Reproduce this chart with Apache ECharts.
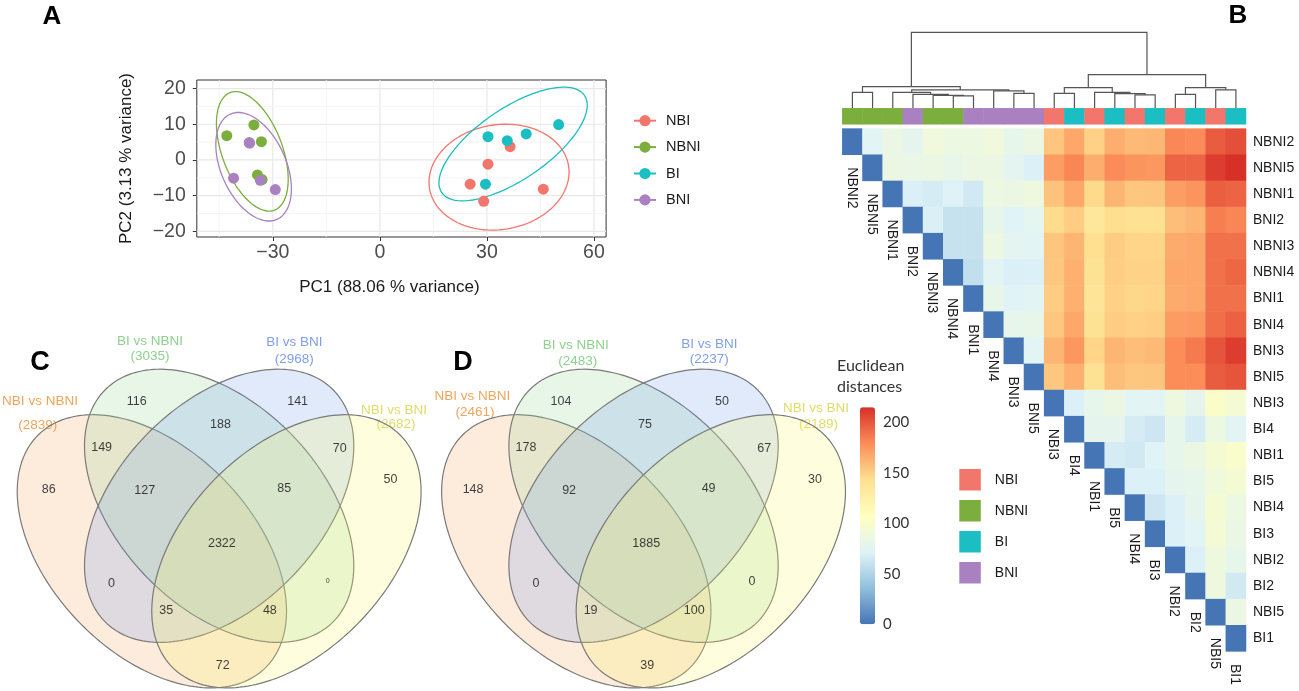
<!DOCTYPE html>
<html><head><meta charset="utf-8">
<script src="https://cdn.jsdelivr.net/npm/echarts@6/dist/echarts.min.js"></script>
<style>html,body{margin:0;padding:0;background:#fff}#c{width:1299px;height:691px}</style>
</head><body><div id="c"></div>
<script>
// ================= DATA =================
// Panel A: PCA scores
const groupNames = ['NBI', 'NBNI', 'BI', 'BNI'];
const pcaNBI  = [[25.3, -6.8], [30.3, -1.2], [29.1, -11.6], [36.5, 3.7], [45.8, -8.2]];
const pcaNBNI = [[-42.9, 6.8], [-35.3, 9.8], [-33.2, 5.1], [-34.3, -4.2], [-33.0, -5.5]];
const pcaBI   = [[30.3, 6.5], [35.7, 5.4], [41.0, 7.3], [50.1, 9.9], [29.6, -6.8]];
const pcaBNI  = [[-36.6, 4.85], [-36.5, 4.7], [-41.0, -5.1], [-33.5, -5.7], [-29.3, -8.3]];
const pcaXTicks = [-30, 0, 30, 60];
const pcaYTicks = [-20, -10, 0, 10, 20];
const pcaXRange = [-51.3, 63.4];
const pcaYRange = [-21.6, 22.4];
const pcaXTitle = 'PC1 (88.06 % variance)';
const pcaYTitle = 'PC2 (3.13 % variance)';

// Panel B: Euclidean distance heatmap (clustered order), upper triangle per row (j > i)
const samples = ['NBNI2','NBNI5','NBNI1','BNI2','NBNI3','NBNI4','BNI1','BNI4','BNI3','BNI5',
                 'NBI3','BI4','NBI1','BI5','NBI4','BI3','NBI2','BI2','NBI5','BI1'];
const distRows = [
  [74,84,78,90,86,86,90,80,85,155,168,150,165,160,161,181,180,198,203],
  [85,83,85,81,85,85,76,70,172,182,165,180,176,175,195,195,210,215],
  [69,67,71,65,86,85,88,156,168,146,162,154,155,172,176,197,195],
  [69,60,60,80,72,77,145,152,135,144,142,142,158,162,185,182],
  [60,60,86,76,74,155,162,143,152,148,148,166,168,190,190],
  [58,74,69,70,154,164,141,151,149,149,168,168,190,194],
  [81,72,74,152,164,139,150,147,148,166,168,190,190],
  [80,81,154,168,141,152,150,151,173,174,191,196],
  [74,162,175,148,162,158,160,179,186,201,210],
  [154,164,141,158,154,155,179,179,198,201],
  [70,80,85,74,74,88,78,102,95],
  [78,78,67,63,80,67,86,74],
  [67,65,72,80,85,95,100],
  [70,70,78,80,90,95],
  [63,70,78,95,86],
  [70,74,94,84],
  [70,88,80],
  [88,65],
  [85],
  []
];
const distMax = 215;
const colorbarTicks = [0, 50, 100, 150, 200];
const colorbarTitle = ['Euclidean', 'distances'];
// dendrogram merges: [left, right, height]; negative = leaf position (1-based), positive = earlier merge
const dendroMerges = [
  [-1, -2, 48], [-6, -7, 37], [-5, 2, 39], [-4, 3, 42], [-3, 4, 48],
  [-9, -10, 45], [-8, 6, 52], [5, 7, 55], [1, 8, 65],
  [-11, -12, 45], [-15, -16, 40], [-14, 11, 44], [-13, 12, 48], [10, 13, 62],
  [-17, -18, 42], [-19, -20, 55], [15, 16, 62], [14, 17, 101], [9, 18, 228]
];
const dendroTop = 228;

// Panels C / D: Venn diagrams
const vennSets = ['NBI vs NBNI', 'BI vs NBNI', 'BI vs BNI', 'NBI vs BNI'];
const vennRegions = ['A','B','C','D','AB','BC','CD','ABC','BCD','ABCD','AC','BD','ACD','ABD','AD'];
const vennCountsC = [86, 116, 141, 50, 149, 188, 70, 127, 85, 2322, 0, 0, 35, 48, 72];
const vennCountsD = [148, 104, 50, 30, 178, 75, 67, 92, 49, 1885, 0, 0, 19, 100, 39];

// ================= STYLE / LAYOUT =================
const groupColors = { NBI: '#F3766C', NBNI: '#7CAE3E', BI: '#1ABEC3', BNI: '#A981C0' };
const heatColors = ['#4575B4', '#91BFDB', '#E0F3F8', '#FFFFBF', '#FEE090', '#FC8D59', '#D73027'];
const vennFill = ['rgba(244,164,96,0.22)', 'rgba(150,215,150,0.22)', 'rgba(100,149,237,0.2)', 'rgba(250,245,100,0.22)'];
const vennLabelColor = ['#F0A55C', '#8FD08F', '#7F9FEA', '#E0DC66'];
const vennEllipses = [[0.35, 0.47, -45], [0.5, 0.57, -45], [0.5, 0.57, 45], [0.65, 0.47, 45]];
const vennAxes = [0.36, 0.225];
const vennRegionPos = {A:[0.12,0.605], B:[0.316,0.80], C:[0.675,0.80], D:[0.882,0.627],
  AB:[0.238,0.698], BC:[0.503,0.748], CD:[0.769,0.696], ABC:[0.334,0.604], BCD:[0.645,0.609],
  ABCD:[0.506,0.488], AC:[0.26,0.40], BD:[0.742,0.404], ACD:[0.382,0.339], ABD:[0.613,0.339], AD:[0.508,0.22]};
const vennSetLabelPos = {
  C: [[[40, 401.7], [37.7, 425.7]], [[150, 341], [150, 356.7]], [[294.3, 342.7], [294.3, 359.3]], [[394, 410], [396, 424.5]]],
  D: [[[472.3, 396.7], [475, 412.7]], [[575.7, 345.7], [577.7, 361]], [[709.3, 344.3], [709.3, 359.3]], [[816, 408], [818.5, 424.3]]]
};
const FONT = '"Liberation Sans", Arial, sans-serif';

// ================= HELPERS =================
function ellipse95(pts) {
  const n = pts.length;
  let mx = 0, my = 0;
  pts.forEach(p => { mx += p[0]; my += p[1]; });
  mx /= n; my /= n;
  let sxx = 0, syy = 0, sxy = 0;
  pts.forEach(p => { const dx = p[0] - mx, dy = p[1] - my; sxx += dx * dx; syy += dy * dy; sxy += dx * dy; });
  sxx /= (n - 1); syy /= (n - 1); sxy /= (n - 1);
  const r = Math.sqrt(5.991464547);
  const a = Math.sqrt(sxx), b = sxy / a, c = Math.sqrt(Math.max(syy - b * b, 0));
  const out = [];
  for (let k = 0; k <= 120; k++) {
    const t = 2 * Math.PI * k / 120, u = Math.cos(t), v = Math.sin(t);
    out.push([mx + r * u * a, my + r * (u * b + v * c)]);
  }
  return out;
}
function fmtNum(v) { return v < 0 ? '\u2212' + (-v) : String(v); }
function minorBreaks(ticks, range) {
  const step = ticks[1] - ticks[0], out = [];
  const all = [ticks[0] - step].concat(ticks);
  for (let i = 0; i < all.length; i++) {
    const m = all[i] + step / 2;
    if (m > range[0] && m < range[1]) out.push(m);
  }
  return out;
}
function buildDendro(merges) {
  const pos = [], hgt = [], segs = [];
  merges.forEach(m => {
    const get = id => id < 0 ? [(-id) - 1, 0] : [pos[id - 1], hgt[id - 1]];
    const l = get(m[0]), r = get(m[1]);
    segs.push([l[0], l[1], r[0], r[1], m[2]]);
    pos.push((l[0] + r[0]) / 2); hgt.push(m[2]);
  });
  return segs;
}
function groupOf(s) { return s.replace(/\d+$/, ''); }
function vennTotals(counts) {
  return ['A', 'B', 'C', 'D'].map(L => vennRegions.reduce((acc, r, i) => acc + (r.indexOf(L) >= 0 ? counts[i] : 0), 0));
}

// ================= BUILD =================
const pcaData = { NBI: pcaNBI, NBNI: pcaNBNI, BI: pcaBI, BNI: pcaBNI };
const gridLineData = [];
pcaXTicks.forEach(v => gridLineData.push([v, 0, 1]));
minorBreaks(pcaXTicks, pcaXRange).forEach(v => gridLineData.push([v, 0, 0]));
pcaYTicks.forEach(v => gridLineData.push([v, 1, 1]));
minorBreaks(pcaYTicks, pcaYRange).forEach(v => gridLineData.push([v, 1, 0]));

const heatData = [];
distRows.forEach((row, i) => {
  heatData.push([i, i, 0]);
  row.forEach((v, k) => heatData.push([i + 1 + k, i, v]));
});
const annData = samples.map((s, j) => [j, 0, groupNames.indexOf(groupOf(s))]);
const dendroSegs = buildDendro(dendroMerges);

const series = [];
// 0: PCA grid lines
series.push({
  type: 'custom', xAxisIndex: 0, yAxisIndex: 0, silent: true, z: 1, data: gridLineData,
  renderItem(params, api) {
    const cs = params.coordSys, v = api.value(0), o = api.value(1), major = api.value(2);
    const style = { stroke: major ? '#E8E8E8' : '#F3F3F3', lineWidth: major ? 1.2 : 0.8 };
    if (o === 0) { const x = api.coord([v, 0])[0]; return { type: 'line', shape: { x1: x, y1: cs.y, x2: x, y2: cs.y + cs.height }, style }; }
    const y = api.coord([0, v])[1];
    return { type: 'line', shape: { x1: cs.x, y1: y, x2: cs.x + cs.width, y2: y }, style };
  }
});
// ellipses (line series first so legend uses line+dot icon)
groupNames.forEach(g => series.push({
  type: 'line', name: g, xAxisIndex: 0, yAxisIndex: 0, data: ellipse95(pcaData[g]),
  showSymbol: false, symbol: 'circle', symbolSize: 11, smooth: false, z: 3, silent: true,
  itemStyle: { color: groupColors[g] }, lineStyle: { color: groupColors[g], width: 1.3 }
}));
groupNames.forEach(g => series.push({
  type: 'scatter', name: g, xAxisIndex: 0, yAxisIndex: 0, data: pcaData[g], symbolSize: 11, z: 4,
  itemStyle: { color: groupColors[g], opacity: 1 }
}));
// dendrogram
series.push({
  type: 'custom', xAxisIndex: 1, yAxisIndex: 1, data: dendroSegs, clip: false, silent: true,
  renderItem(params, api) {
    const x1 = api.value(0), h1 = api.value(1), x2 = api.value(2), h2 = api.value(3), h = api.value(4);
    return { type: 'polyline', shape: { points: [api.coord([x1, h1]), api.coord([x1, h]), api.coord([x2, h]), api.coord([x2, h2])] },
      style: { stroke: '#555', lineWidth: 1.2, fill: null } };
  }
});
const annIndex = series.length;
series.push({ type: 'heatmap', name: 'annotation', xAxisIndex: 2, yAxisIndex: 2, data: annData, silent: true });
const heatIndex = series.length;
series.push({ type: 'heatmap', name: 'distance', xAxisIndex: 3, yAxisIndex: 3, data: heatData, silent: true });
// column labels under the diagonal
series.push({
  type: 'custom', xAxisIndex: 3, yAxisIndex: 3, data: samples.map((s, j) => [j, j]), clip: false, silent: true,
  renderItem(params, api) {
    const j = api.value(0), c = api.coord([j, j]), sz = api.size([1, 1]);
    return { type: 'text', x: c[0] - 1, y: c[1] + sz[1] - 0.5, rotation: -Math.PI / 2,
      style: { text: samples[j], x: 0, y: 0, align: 'left', verticalAlign: 'middle', fill: '#1a1a1a', font: '14px ' + FONT } };
  }
});
// colorbar axis holder
series.push({ type: 'scatter', xAxisIndex: 4, yAxisIndex: 4, data: [], silent: true });

// Venn panels
function vennSeries(axisIdx, counts, tiny) {
  series.push({
    type: 'custom', xAxisIndex: axisIdx, yAxisIndex: axisIdx, data: vennEllipses.map((e, k) => [k, 0]), clip: false, silent: true,
    renderItem(params, api) {
      const k = api.value(0), e = vennEllipses[k];
      const ang = e[2] * Math.PI / 180, ca = Math.cos(ang), sa = Math.sin(ang), pts = [];
      for (let s = 0; s <= 200; s++) {
        const t = 2 * Math.PI * s / 200, u = vennAxes[0] * Math.cos(t), v = vennAxes[1] * Math.sin(t);
        pts.push(api.coord([e[0] + u * ca - v * sa, e[1] + u * sa + v * ca]));
      }
      return { type: 'polygon', shape: { points: pts }, style: { fill: vennFill[k], stroke: '#7a7a7a', lineWidth: 1.2 } };
    }
  });
  series.push({
    type: 'scatter', xAxisIndex: axisIdx, yAxisIndex: axisIdx, symbolSize: 1, silent: true, z: 5,
    itemStyle: { color: 'rgba(0,0,0,0)' },
    data: vennRegions.map((r, i) => ({
      value: [vennRegionPos[r][0], vennRegionPos[r][1], counts[i]],
      label: { show: true, position: 'inside', formatter: String(counts[i]), color: '#111',
        fontSize: tiny.indexOf(r) >= 0 ? 7 : 12.5, fontFamily: FONT }
    }))
  });
}
vennSeries(5, vennCountsC, ['BD']);
vennSeries(6, vennCountsD, []);

// graphic texts
const graphic = [];
function addText(txt, x, y, opts) {
  graphic.push({ type: 'text', x: x, y: y, silent: true,
    style: Object.assign({ text: txt, align: 'center', verticalAlign: 'middle', fill: '#111', font: '13.5px ' + FONT }, opts || {}) });
}
addText('A', 52, 17, { font: 'bold 26px ' + FONT, fill: '#000' });
addText('B', 1238, 16, { font: 'bold 26px ' + FONT, fill: '#000' });
addText('C', 40, 363, { font: 'bold 27px ' + FONT, fill: '#000' });
addText('D', 463, 363, { font: 'bold 27px ' + FONT, fill: '#000' });
addText(colorbarTitle[0], 837, 366, { align: 'left', font: '16px Lato, sans-serif', fill: '#333' });
addText(colorbarTitle[1], 837, 387, { align: 'left', font: '16px Lato, sans-serif', fill: '#333' });
[['C', vennCountsC], ['D', vennCountsD]].forEach(([p, counts]) => {
  const tot = vennTotals(counts);
  vennSets.forEach((nm, s) => {
    const lp = vennSetLabelPos[p][s];
    addText(nm, lp[0][0], lp[0][1], { fill: vennLabelColor[s] });
    addText('(' + tot[s] + ')', lp[1][0], lp[1][1], { fill: vennLabelColor[s] });
  });
});

const option = {
  animation: false,
  backgroundColor: '#fff',
  textStyle: { fontFamily: FONT },
  grid: [
    { left: 196.8, top: 80, width: 409.3, height: 157, show: true, borderColor: '#333', borderWidth: 1, backgroundColor: '#fff' },
    { left: 842.3, top: 32.3, width: 403.7, height: 76 },
    { left: 842.3, top: 108.3, width: 403.7, height: 16 },
    { left: 842.3, top: 128.6, width: 403.7, height: 522.8 },
    { left: 860, top: 407.3, width: 15, height: 217 },
    { left: 17.3, top: 369.3, width: 403.7, height: 318.5 },
    { left: 441.7, top: 369.3, width: 403.7, height: 318.5 }
  ],
  xAxis: [
    { gridIndex: 0, type: 'value', min: pcaXRange[0], max: pcaXRange[1],
      name: pcaXTitle, nameLocation: 'middle', nameGap: 42,
      nameTextStyle: { fontSize: 17, color: '#1a1a1a', fontFamily: FONT, padding: [0, 24, 0, 0] },
      axisLine: { show: false, onZero: false }, splitLine: { show: false },
      axisTick: { show: true, length: 4, lineStyle: { color: '#333' }, customValues: pcaXTicks },
      axisLabel: { customValues: pcaXTicks, formatter: fmtNum, fontSize: 19.5, color: '#4D4D4D', margin: 6, fontFamily: FONT } },
    { gridIndex: 1, type: 'value', min: -0.5, max: 19.5, show: false },
    { gridIndex: 2, type: 'category', data: samples, show: false },
    { gridIndex: 3, type: 'category', data: samples, show: false },
    { gridIndex: 4, type: 'value', min: 0, max: 1, show: false },
    { gridIndex: 5, type: 'value', min: 0.05, max: 0.95, show: false },
    { gridIndex: 6, type: 'value', min: 0.05, max: 0.95, show: false }
  ],
  yAxis: [
    { gridIndex: 0, type: 'value', min: pcaYRange[0], max: pcaYRange[1],
      name: pcaYTitle, nameLocation: 'middle', nameGap: 62, nameRotate: 90,
      nameTextStyle: { fontSize: 17, color: '#1a1a1a', fontFamily: FONT },
      axisLine: { show: false, onZero: false }, splitLine: { show: false },
      axisTick: { show: true, length: 4, lineStyle: { color: '#333' }, customValues: pcaYTicks },
      axisLabel: { customValues: pcaYTicks, formatter: fmtNum, fontSize: 19.5, color: '#4D4D4D', margin: 11, fontFamily: FONT } },
    { gridIndex: 1, type: 'value', min: 0, max: dendroTop, show: false },
    { gridIndex: 2, type: 'category', data: ['group'], show: false },
    { gridIndex: 3, type: 'category', data: samples, inverse: true, position: 'right',
      axisLine: { show: false }, axisTick: { show: false }, splitLine: { show: false },
      axisLabel: { fontSize: 14, color: '#1a1a1a', margin: 7, fontFamily: FONT, interval: 0 } },
    { gridIndex: 4, type: 'value', min: 0, max: distMax, position: 'right',
      axisLine: { show: false }, axisTick: { show: false }, splitLine: { show: false },
      axisLabel: { customValues: colorbarTicks, fontSize: 15, color: '#333', margin: 8, fontFamily: 'Lato, sans-serif' } },
    { gridIndex: 5, type: 'value', min: 0.17, max: 0.87, show: false },
    { gridIndex: 6, type: 'value', min: 0.17, max: 0.87, show: false }
  ],
  visualMap: [
    { type: 'continuous', seriesIndex: heatIndex, dimension: 2, min: 0, max: distMax, inRange: { color: heatColors },
      left: 860, top: 407.3, itemWidth: 15, itemHeight: 217, padding: 0, calculable: false, realtime: false, text: null, showLabel: false },
    { type: 'piecewise', seriesIndex: annIndex, dimension: 2, show: false,
      pieces: groupNames.map((g, k) => ({ value: k, color: groupColors[g] })) }
  ],
  legend: [
    { data: groupNames, orient: 'vertical', left: 633, top: 113.2, padding: 0, itemWidth: 22, itemHeight: 14, itemGap: 11.4,
      selectedMode: false, textStyle: { fontSize: 14.5, color: '#1a1a1a', lineHeight: 14, fontFamily: FONT, padding: [0, 0, 0, 5] } },
    { data: groupNames, orient: 'vertical', left: 959.3, top: 469, padding: 0, icon: 'rect', itemWidth: 21.5, itemHeight: 21.5, itemGap: 9.5,
      selectedMode: false, textStyle: { fontSize: 14, color: '#1a1a1a', fontFamily: FONT, padding: [0, 0, 0, 9] } }
  ],
  graphic: graphic,
  series: series
};
const chart = echarts.init(document.getElementById('c'));
chart.setOption(option);
</script>
</body></html>
